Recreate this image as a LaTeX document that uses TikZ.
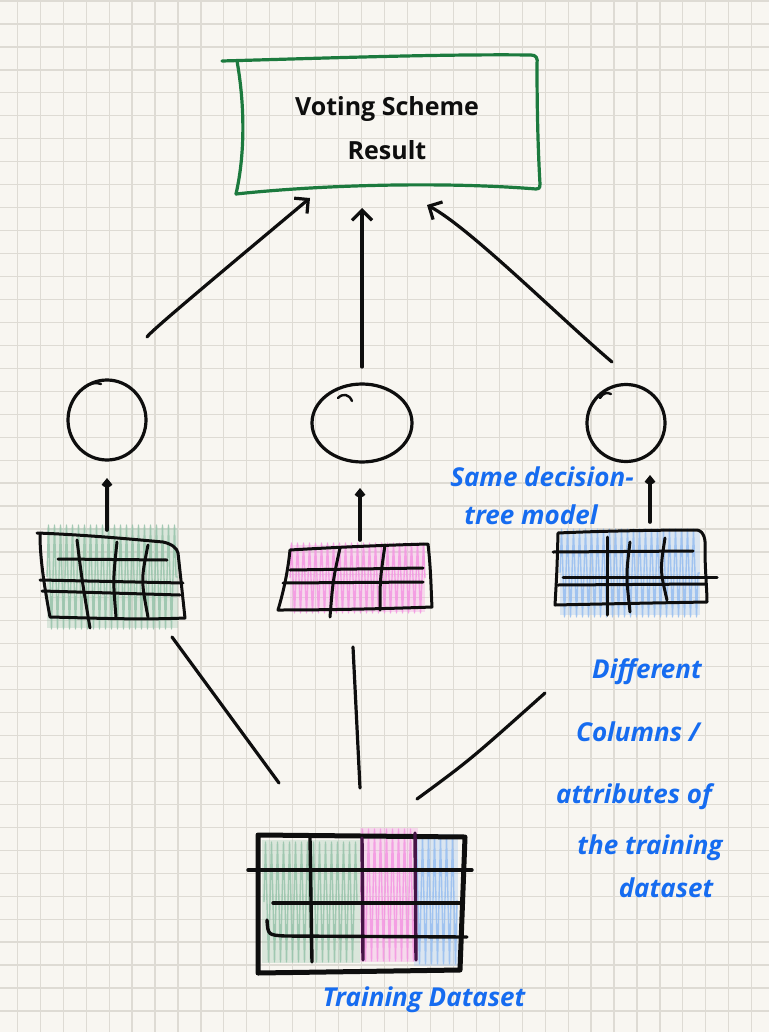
\documentclass[tikz,border=0pt]{standalone}
\usepackage{fontspec}
\setmainfont{Open Sans}
\usetikzlibrary{arrows.meta,decorations.pathmorphing,shapes.geometric}
\definecolor{paper}{RGB}{248,246,241}
\definecolor{gridc}{RGB}{222,219,212}
\definecolor{boxgreen}{RGB}{28,122,62}
\definecolor{ink}{RGB}{14,14,14}
\definecolor{penblue}{RGB}{22,108,240}
\definecolor{hgreen}{RGB}{150,195,170}
\definecolor{hpink}{RGB}{244,150,226}
\definecolor{hblue}{RGB}{150,190,240}
\definecolor{dpurple}{RGB}{70,20,70}
\begin{document}
\begin{tikzpicture}[x=1pt,y=-1pt,
  inkline/.style={draw=ink, line width=3.2pt, line cap=round, line join=round},
  arr/.style={inkline, -{Straight Barb[length=10pt,width=20pt]}},
  smallarr/.style={inkline, line width=3.6pt, -{Straight Barb[length=5pt,width=8pt]}},
  model/.style={ellipse, draw=ink, line width=3.2pt, inner sep=0pt},
  tablebox/.style={rectangle, inner sep=0pt},
  scrib/.style={line width=1.4pt, line join=round, opacity=0.85, decorate, decoration={zigzag, segment length=6pt, amplitude=#1}},
  bigrule/.style={draw=ink, line width=5pt, line cap=round, line join=round},
  midrule/.style={draw=ink, line width=3.4pt, line cap=round},
  tabrule/.style={draw=ink, line width=3pt, line cap=round, line join=round},
  note/.style={text=penblue, font=\fontsize{26}{30}\selectfont\bfseries\itshape, inner sep=0pt},
  boxline/.style={draw=boxgreen, line width=3.2pt, line join=round, line cap=round},
]
% paper and grid
\fill[paper] (0,0) rectangle (769,1032);
\useasboundingbox (0,0) rectangle (769,1032);
\foreach \i in {0,...,32} \draw[gridc, line width=1.2pt] ({17.3+22.95*\i},0) -- ({17.3+22.95*\i},1032);
\foreach \j in {0,...,44} \draw[gridc, line width=1.2pt] (0,{1.1+22.95*\j}) -- (769,{1.1+22.95*\j});

% voting scheme box
\node[tablebox, font=\fontsize{25}{44}\selectfont\bfseries, align=center, text=ink, minimum width=300pt, minimum height=132pt] (vote) at (387,128) {Voting Scheme\\Result};
\draw[boxline] (222,61) .. controls (330,58) and (440,54) .. (531,55) .. controls (536,55) and (538,58) .. (537,64)
  .. controls (537,110) and (538,150) .. (540,184) .. controls (540,189) and (538,189) .. (536,189)
  .. controls (450,182) and (330,184) .. (236,194);
\draw[boxline] (237,61) .. controls (244,100) and (246,150) .. (236,194);

% models
\node[model, minimum width=78pt, minimum height=80pt] (c1) at (107,420) {};
\node[model, minimum width=100pt, minimum height=78pt] (c2) at (362,423) {};
\node[model, minimum width=78pt, minimum height=77pt] (c3) at (626,423) {};
\draw[inkline, line width=2.4pt] (84,388) .. controls (90,383) and (96,382) .. (101,384);
\draw[inkline, line width=2.4pt] (338,398) .. controls (343,393) and (349,394) .. (352,401);
\draw[inkline, line width=2.4pt] (600,398) .. controls (603,393) and (607,392) .. (611,394);

% arrows to result
\coordinate (a1s) at (147,337); \coordinate (a1e) at (310,198);
\coordinate (a2s) at (362,367); \coordinate (a2e) at (362,208);
\coordinate (a3s) at (612,362); \coordinate (a3e) at (427,205);
\draw[arr] (a1s) .. controls (150,332) and (200,290) .. (a1e);
\draw[arr] (a2s) -- (a2e);
\draw[arr] (a3s) .. controls (560,318) and (470,228) .. (a3e);

% small tables (placeholders for names)
\node[tablebox, minimum width=148pt, minimum height=90pt] (t1) at (111,577) {};
\node[tablebox, minimum width=154pt, minimum height=66pt] (t2) at (355,578) {};
\node[tablebox, minimum width=152pt, minimum height=76pt] (t3) at (632,568) {};
\node[tablebox, minimum width=214pt, minimum height=140pt] (t0) at (361,903) {};

% scribbles of small tables
\fill[hgreen, opacity=0.3] (47,528) rectangle (178,628);
\draw[hgreen, scrib=52pt] (47,577) -- (178,577);
\fill[hpink, opacity=0.3] (290,545) rectangle (425,612);
\draw[hpink, scrib=35pt] (290,578) -- (425,578);
\fill[hblue, opacity=0.3] (560,532) rectangle (700,615);
\draw[hblue, scrib=44pt] (560,573) -- (700,573);

% green table
\draw[tabrule] (37,533) .. controls (90,535) and (140,540) .. (163,542) .. controls (172,544) and (177,548) .. (178,553)
  .. controls (181,580) and (183,600) .. (185,618) .. controls (140,620) and (90,618) .. (50,617)
  .. controls (45,590) and (40,560) .. (40,535);
\draw[tabrule] (58,559) -- (167,560);
\draw[tabrule] (40,580) -- (183,583);
\draw[tabrule] (42,591) -- (180,595);
\draw[tabrule] (77,540) .. controls (82,580) .. (90,628);
\draw[tabrule] (117,542) .. controls (113,580) .. (116,617);
\draw[tabrule] (148,545) .. controls (141,580) .. (148,617);

% pink table
\draw[tabrule] (290,550) .. controls (340,547) and (390,545) .. (428,544) .. controls (431,570) and (431,590) .. (432,607)
  .. controls (380,609) and (320,610) .. (278,610) .. controls (284,590) and (288,570) .. (290,550);
\draw[tabrule] (290,570) -- (423,568);
\draw[tabrule] (283,583) -- (423,582);
\draw[tabrule] (340,548) .. controls (333,580) .. (330,617);
\draw[tabrule] (385,545) .. controls (380,580) .. (380,610);

% blue table
\draw[tabrule] (558,533) .. controls (600,531) and (660,530) .. (697,530) .. controls (704,531) and (706,540) .. (705,550)
  .. controls (705,570) and (707,590) .. (707,602) .. controls (650,603) and (600,604) .. (555,605)
  .. controls (557,570) .. (558,533);
\draw[tabrule] (553,552) -- (693,551);
\draw[tabrule] (563,577) -- (717,577);
\draw[tabrule] (558,585) -- (705,584);
\draw[tabrule] (607,537) -- (607,615);
\draw[tabrule] (630,542) .. controls (626,575) .. (630,612);
\draw[tabrule] (665,538) .. controls (660,570) .. (667,600);

% short arrows table -> model
\coordinate (b1s) at (107,530); \coordinate (b1e) at (107,478);
\coordinate (b2s) at (360,540); \coordinate (b2e) at (360,488);
\coordinate (b3s) at (650,522); \coordinate (b3e) at (650,475);
\draw[smallarr] (b1s) -- (b1e);
\draw[smallarr] (b2s) -- (b2e);
\draw[smallarr] (b3s) -- (b3e);

% lines from training dataset
\coordinate (l1s) at (279,783); \coordinate (l1e) at (172,637);
\coordinate (l2s) at (360,788); \coordinate (l2e) at (353,647);
\coordinate (l3s) at (417,799); \coordinate (l3e) at (545,693);
\draw[inkline] (l1s) -- (l1e);
\draw[inkline] (l2s) -- (l2e);
\draw[inkline] (l3s) .. controls (470,760) .. (l3e);

% big table scribbles
\fill[hgreen, opacity=0.3] (262,840) rectangle (360,963);
\draw[hgreen, scrib=60pt] (264,902) -- (358,902);
\fill[hpink, opacity=0.3] (360,828) rectangle (418,962);
\draw[hpink, scrib=66pt] (361,895) -- (417,895);
\fill[hblue, opacity=0.3] (414,834) rectangle (458,966);
\draw[hblue, scrib=64pt] (415,900) -- (457,900);

% big table
\draw[bigrule] (258,835) -- (465,837) -- (460,970) -- (258,973) -- cycle;
\draw[midrule] (310,838) -- (312,962);
\draw[midrule, draw=dpurple] (362,838) -- (363,960);
\draw[midrule, draw=dpurple] (415,833) -- (416,960);
\draw[midrule] (248,870) -- (472,870);
\draw[midrule] (273,903) -- (463,903);
\draw[midrule] (267,920) .. controls (268,935) .. (285,936) -- (467,937);

% blue notes
\node[note] (n1) at (542,477) {Same decision-};
\node[note] (n2) at (531,515) {tree model};
\node[note] (d1) at (647,672) {Different};
\node[note] (d2) at (638,732) {Columns /};
\node[note] (d3) at (634,797) {attributes of};
\node[note] (d4) at (650,848) {the training};
\node[note] (d5) at (666,888) {dataset};
\node[note] (td) at (424,1000) {Training Dataset};
\end{tikzpicture}
\end{document}
